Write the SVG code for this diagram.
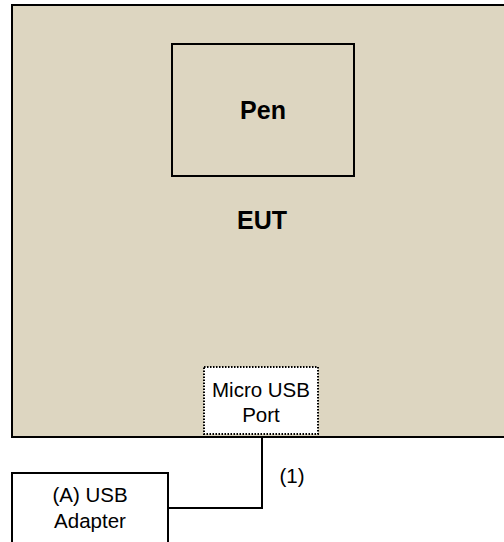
<svg xmlns="http://www.w3.org/2000/svg" width="504" height="542" viewBox="0 0 504 542">
<style>
text{font-family:"Liberation Sans",Arial,sans-serif;fill:#000;text-anchor:middle}
.b{font-weight:bold;font-size:25px}
.n{font-size:20.5px}
.box{stroke:#000;stroke-width:2}
</style>
<rect width="504" height="542" fill="#fff"/>
<g id="eut">
<rect class="box" x="12" y="5" width="500" height="432" fill="#DDD6C1"/>
<text class="b" x="262" y="229">EUT</text>
</g>
<g id="pen">
<rect class="box" x="172" y="44" width="182" height="132" fill="#DDD6C1"/>
<text class="b" x="263" y="119">Pen</text>
</g>
<g id="port">
<rect x="204" y="367" width="114" height="67" fill="#fff" stroke="#000" stroke-width="2" stroke-dasharray="1.5,1.5"/>
<text class="n" x="261" y="397">Micro USB</text>
<text class="n" x="261" y="422">Port</text>
</g>
<g id="adapter">
<rect class="box" x="12" y="473" width="156" height="80" fill="#fff"/>
<text class="n" x="90" y="502">(A) USB</text>
<text class="n" x="90" y="528">Adapter</text>
</g>
<g id="connectors">
<polyline points="262,437 262,508 168,508" fill="none" stroke="#000" stroke-width="2"/>
<text class="n" x="292" y="483">(1)</text>
</g>
</svg>
